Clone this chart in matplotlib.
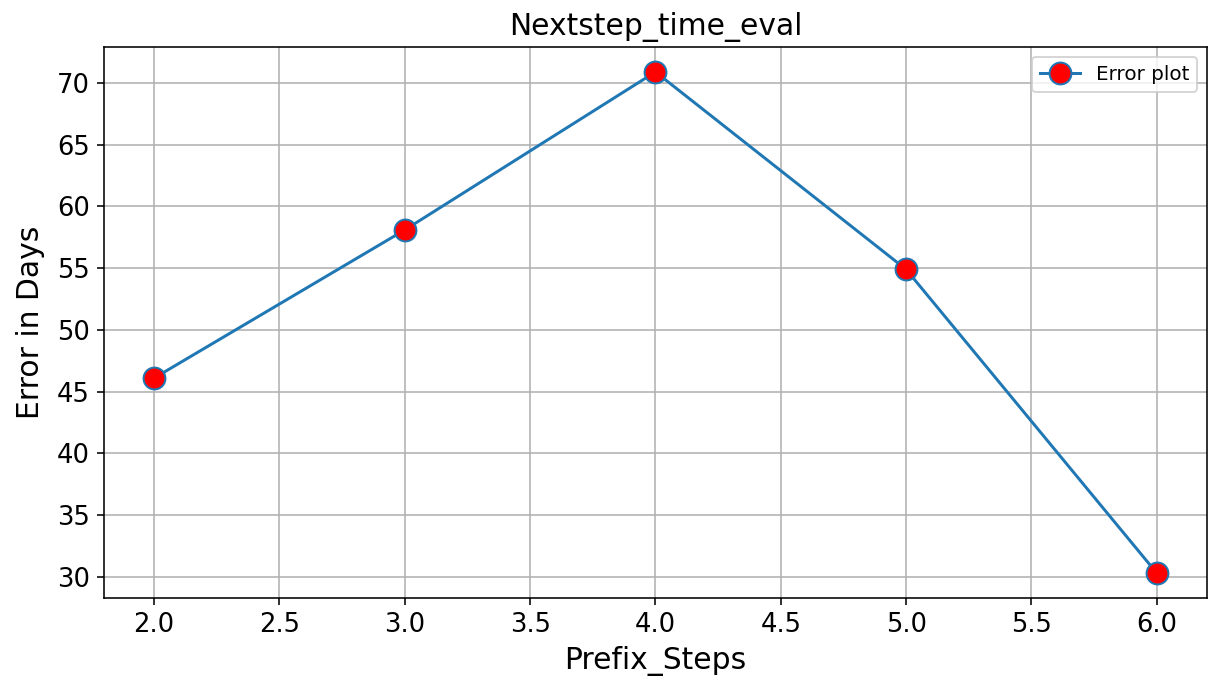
import matplotlib
matplotlib.use("Agg")
import matplotlib.pyplot as plt

# data
prefix_steps = [2, 3, 4, 5, 6]
error_days = [46.1, 58.1, 70.9, 54.9, 30.3]

DPI = 143
fig = plt.figure(figsize=(1213 / DPI, 679 / DPI), dpi=DPI)
ax = fig.add_axes([0.0857, 0.119, 0.9093, 0.812])

ax.plot(prefix_steps, error_days, marker="o", color="#1f77b4",
        markerfacecolor="red", markersize=11, label="Error plot")

ax.set_title("Nextstep_time_eval", fontsize=15)
ax.set_xlabel("Prefix_Steps", fontsize=15)
ax.set_ylabel("Error in Days", fontsize=15, labelpad=6)
ax.tick_params(labelsize=13)
ax.grid(True)
ax.legend(loc="upper right")

fig.savefig("out.png", dpi=DPI)
